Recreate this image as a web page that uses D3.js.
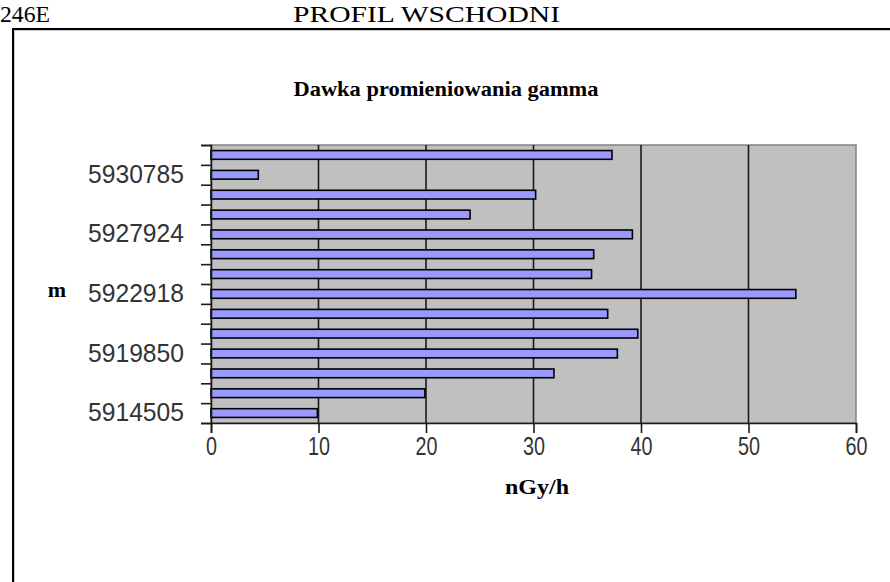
<!DOCTYPE html>
<html>
<head>
<meta charset="utf-8">
<script src="https://cdn.jsdelivr.net/npm/d3@7/dist/d3.min.js"></script>
<style>
  html, body { margin: 0; padding: 0; background: #fff; }
  svg { display: block; }
</style>
</head>
<body>
<script>
// Gamma dose rate along the eastern profile (bottom to top)
const categoryLabels = ["5914505", "", "", "5919850", "", "", "5922918", "", "", "5927924", "", "", "5930785", ""];
const doseValues = [9.9, 19.9, 31.9, 37.8, 39.7, 36.9, 54.4, 35.4, 35.6, 39.2, 24.1, 30.2, 4.4, 37.3];
const xTickValues = [0, 10, 20, 30, 40, 50, 60];

const W = 890, H = 582;
const plot = { left: 211, right: 856, top: 145, bottom: 423 };
const serif = "Liberation Serif, Times New Roman, serif";
const tickFont = "Liberation Sans, Arial, sans-serif";

const svg = d3.select("body").append("svg").attr("width", W).attr("height", H);

// Page header
svg.append("text").attr("x", 0).attr("y", 22)
  .attr("font-family", serif).attr("font-size", 23)
  .attr("textLength", 50).attr("lengthAdjust", "spacingAndGlyphs").text("246E");
svg.append("text").attr("x", 293).attr("y", 22)
  .attr("font-family", serif).attr("font-size", 23)
  .attr("textLength", 267).attr("lengthAdjust", "spacingAndGlyphs").text("PROFIL WSCHODNI");

// Chart frame (runs past the right and bottom edges)
svg.append("rect").attr("x", 14).attr("y", 30).attr("width", W + 20).attr("height", H)
  .attr("fill", "none").attr("stroke", "#999").attr("stroke-width", 1);
svg.append("rect").attr("x", 13).attr("y", 29).attr("width", W + 20).attr("height", H)
  .attr("fill", "none").attr("stroke", "#000").attr("stroke-width", 2);

// Chart title
svg.append("text").attr("x", 446).attr("y", 96).attr("text-anchor", "middle")
  .attr("font-family", serif).attr("font-weight", "bold")
  .attr("font-size", 22).attr("textLength", 305).attr("lengthAdjust", "spacingAndGlyphs")
  .text("Dawka promieniowania gamma");

const idx = d3.range(doseValues.length);
const x = d3.scaleLinear().domain([0, 60]).range([plot.left, plot.right]);
const y = d3.scaleBand().domain(idx).range([plot.bottom, plot.top])
  .paddingInner(0.56).paddingOuter(0.28);
const yEdge = d3.scaleLinear().domain([0, doseValues.length]).range([plot.bottom, plot.top]);

// Plot area
svg.append("rect").attr("x", plot.left).attr("y", plot.top)
  .attr("width", plot.right - plot.left).attr("height", plot.bottom - plot.top)
  .attr("fill", "#c0c0c0").attr("stroke", "#808080").attr("stroke-width", 1.5);

// Vertical gridlines
svg.append("g").selectAll("line").data(xTickValues.filter(v => v > 0 && v < 60)).join("line")
  .attr("x1", d => x(d)).attr("x2", d => x(d))
  .attr("y1", plot.top).attr("y2", plot.bottom)
  .attr("stroke", "#1a1a1a").attr("stroke-width", 1.6);

// Bars
svg.append("g").selectAll("rect").data(idx).join("rect")
  .attr("x", x(0))
  .attr("y", d => y(d))
  .attr("width", d => x(doseValues[d]) - x(0))
  .attr("height", y.bandwidth())
  .attr("fill", "#9999ff").attr("stroke", "#000").attr("stroke-width", 1.6);

// Category axis: boundary ticks
const yTickAxis = svg.append("g").attr("transform", `translate(${plot.left},0)`)
  .call(d3.axisLeft(yEdge).tickValues(d3.range(doseValues.length + 1)).tickSize(10).tickFormat(""));
yTickAxis.select(".domain").attr("stroke", "#1a1a1a").attr("stroke-width", 1.6);
yTickAxis.selectAll(".tick line").attr("stroke", "#1a1a1a").attr("stroke-width", 1.6);

// Category axis: labels
const yLabelAxis = svg.append("g").attr("transform", `translate(${plot.left},0)`)
  .call(d3.axisLeft(y).tickValues(idx.filter(i => categoryLabels[i] !== ""))
    .tickSize(0).tickPadding(27).tickFormat(i => categoryLabels[i]));
yLabelAxis.select(".domain").remove();
yLabelAxis.selectAll("text").attr("font-family", tickFont).attr("font-size", 25)
  .attr("fill", "#333").attr("textLength", 96).attr("lengthAdjust", "spacingAndGlyphs");

// Value axis
const xAxis = svg.append("g").attr("transform", `translate(0,${plot.bottom})`)
  .call(d3.axisBottom(x).tickValues(xTickValues).tickSize(10).tickPadding(4).tickFormat(d3.format("d")));
xAxis.select(".domain").attr("stroke", "#1a1a1a").attr("stroke-width", 1.6);
xAxis.selectAll(".tick line").attr("stroke", "#1a1a1a").attr("stroke-width", 1.6);
xAxis.selectAll("text").attr("font-family", tickFont).attr("font-size", 25).attr("fill", "#333")
  .attr("textLength", d => String(d).length * 11).attr("lengthAdjust", "spacingAndGlyphs");

// Axis titles
svg.append("text").attr("x", 57).attr("y", 297).attr("text-anchor", "middle")
  .attr("font-family", serif).attr("font-weight", "bold")
  .attr("font-size", 22).text("m");
svg.append("text").attr("x", 537).attr("y", 494).attr("text-anchor", "middle")
  .attr("font-family", serif).attr("font-weight", "bold")
  .attr("font-size", 21).attr("textLength", 64).attr("lengthAdjust", "spacingAndGlyphs")
  .text("nGy/h");
</script>
</body>
</html>
